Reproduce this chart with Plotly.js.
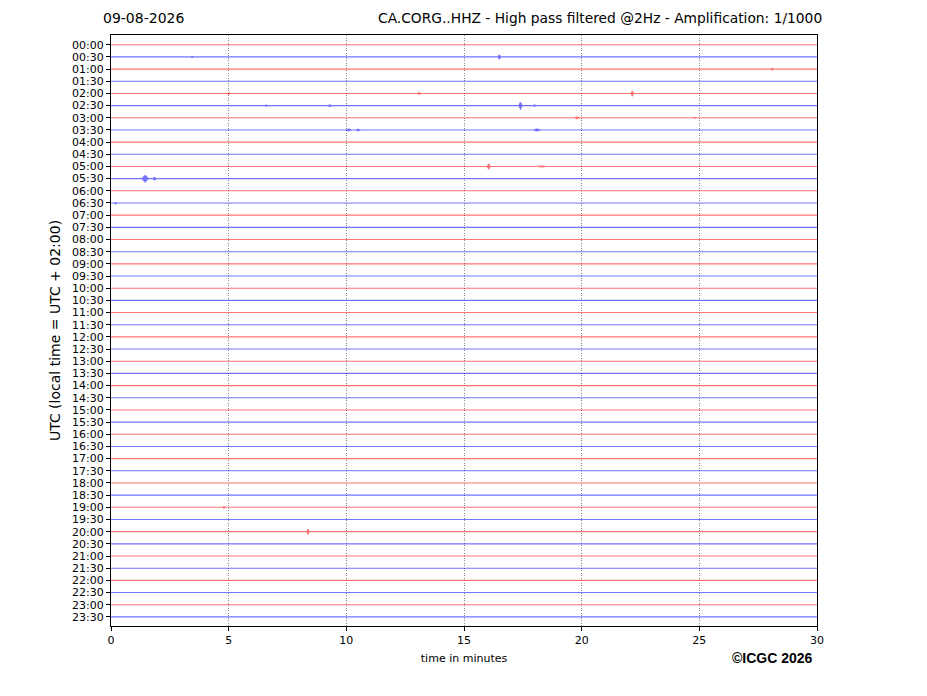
<!DOCTYPE html>
<html>
<head>
<meta charset="utf-8">
<script src="https://cdn.plot.ly/plotly-3.0.1.min.js"></script>
<style>
  html, body { margin: 0; padding: 0; background: #fff; }
  #heli { width: 927px; height: 696px; }
</style>
</head>
<body>
<div id="heli"></div>
<script>
// row labels (UTC start of each 30 min line)
const rowLabels = [
  '00:00','00:30','01:00','01:30','02:00','02:30','03:00','03:30',
  '04:00','04:30','05:00','05:30','06:00','06:30','07:00','07:30',
  '08:00','08:30','09:00','09:30','10:00','10:30','11:00','11:30',
  '12:00','12:30','13:00','13:30','14:00','14:30','15:00','15:30',
  '16:00','16:30','17:00','17:30','18:00','18:30','19:00','19:30',
  '20:00','20:30','21:00','21:30','22:00','22:30','23:00','23:30'
];
const rowColors = ['rgba(255,0,0,0.55)', 'rgba(0,0,255,0.55)'];

// events: row index, minute, peak amplitude (rows), duration (min)
const eventRow    = [1,    1,    2,    4,   4,    4,     5,   5,   5,    5,    6,    6,    7,    7,    7,    10,   10,   11,   11,   13,  38,  40];
const eventMinute = [3.45, 16.5, 28.1, 5.0, 13.1, 22.15, 6.6, 9.3, 17.4, 18.0, 19.8, 24.8, 10.1, 10.5, 18.1, 16.05, 18.3, 1.45, 1.85, 0.2, 4.8, 8.37];
const eventAmp    = [0.08, 0.2,  0.12, 0.1, 0.1,  0.25,  0.1, 0.12,0.33, 0.1,  0.12, 0.08, 0.12, 0.1,  0.12, 0.25, 0.06, 0.33, 0.15, 0.1, 0.12, 0.25];
const eventDur    = [0.1,  0.15, 0.15, 0.1, 0.15, 0.12,  0.1, 0.15,0.15, 0.15, 0.2,  0.1,  0.25, 0.2,  0.3,  0.15, 0.3,  0.3,  0.15, 0.1, 0.1,  0.12];

const minutesRange = [0, 30];

// baseline with a short wiggle at each event (envelope rises then falls back to 0)
function buildRow(r) {
  const xs = [minutesRange[0]];
  const ys = [r];
  const idx = [];
  eventRow.forEach((row, i) => { if (row === r) idx.push(i); });
  idx.sort((a, b) => eventMinute[a] - eventMinute[b]);
  idx.forEach(i => {
    const n = 14;
    const step = eventDur[i] / n;
    const start = eventMinute[i] - eventDur[i] / 2;
    for (let k = 0; k <= n; k++) {
      const env = 1 - Math.abs(k - n / 2) / (n / 2);
      const a = eventAmp[i] * env * (k % 2 === 0 ? 1 : -1);
      xs.push(start + k * step);
      ys.push(r - a);
    }
  });
  xs.push(minutesRange[1]); ys.push(r);
  return { xs, ys };
}

const traces = rowLabels.map((lbl, r) => {
  const d = buildRow(r);
  return {
    x: d.xs, y: d.ys, type: 'scatter', mode: 'lines',
    line: { color: rowColors[r % 2], width: 1.1, simplify: false },
    hoverinfo: 'skip', showlegend: false
  };
});

const font = 'DejaVu Sans, sans-serif';
const layout = {
  width: 927, height: 696,
  paper_bgcolor: '#fff', plot_bgcolor: '#fff',
  margin: { l: 111, r: 110, t: 35, b: 70 },
  font: { family: font, color: '#000', size: 11 },
  showlegend: false,
  xaxis: {
    range: minutesRange, tickvals: [0, 5, 10, 15, 20, 25, 30],
    ticks: 'outside', ticklen: 4, tickwidth: 1, tickcolor: '#000',
    showgrid: true, gridcolor: '#666', griddash: '1px,1.5px', gridwidth: 0.8,
    showline: true, linecolor: '#000', linewidth: 1, mirror: true,
    zeroline: false, tickfont: { size: 11, family: font },
    title: { text: 'time in minutes', font: { size: 11, family: font }, standoff: 8 }
  },
  yaxis: {
    range: [47.75, -0.8], tickvals: rowLabels.map((_, i) => i), ticktext: rowLabels,
    ticks: 'outside', ticklen: 4, tickwidth: 1, tickcolor: '#000',
    showgrid: false, zeroline: false,
    showline: true, linecolor: '#000', linewidth: 1, mirror: true,
    tickfont: { size: 11, family: font },
    title: { text: 'UTC (local time = UTC + 02:00)', font: { size: 14, family: font }, standoff: 8 }
  },
  annotations: [
    { text: '09-08-2026', xref: 'paper', yref: 'paper', x: -0.014, y: 1.012,
      xanchor: 'left', yanchor: 'bottom', showarrow: false, font: { size: 14, family: font } },
    { text: 'CA.CORG..HHZ - High pass filtered @2Hz - Amplification: 1/1000', xref: 'paper', yref: 'paper',
      x: 1.01, y: 1.012, xanchor: 'right', yanchor: 'bottom', showarrow: false, font: { size: 13.8, family: font } },
    { text: '<b>©ICGC 2026</b>', xref: 'paper', yref: 'paper', x: 0.997, y: -0.038,
      xanchor: 'right', yanchor: 'top', showarrow: false, font: { size: 14, family: 'Liberation Sans, Arial, sans-serif' } }
  ]
};

Plotly.newPlot('heli', traces, layout, { displayModeBar: false, staticPlot: true });
</script>
</body>
</html>
